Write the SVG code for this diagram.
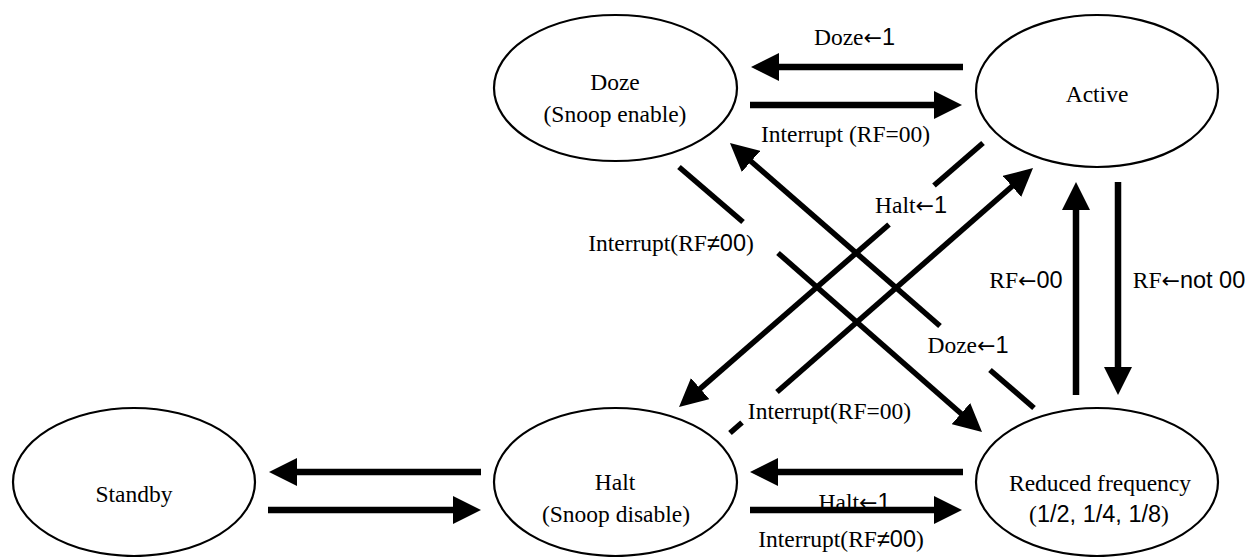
<svg xmlns="http://www.w3.org/2000/svg" width="1252" height="557" viewBox="0 0 1252 557">
<style>
  .node { fill: #ffffff; stroke: #000000; stroke-width: 2.2; }
  text { font-family: "Liberation Serif", "Times New Roman", serif; font-size: 23.5px; fill: #000000; text-anchor: middle; }
  .s { font-family: "Liberation Sans", Arial, sans-serif; }
  .a { font-family: "DejaVu Sans", sans-serif; font-size: 22px; }
  .ln { stroke: #000000; stroke-width: 6.5; fill: none; }
  .dg { stroke: #000000; stroke-width: 5.5; fill: none; }
  .arr { marker-end: url(#ah); }
</style>
<defs>
  <marker id="ah" markerUnits="userSpaceOnUse" markerWidth="28" markerHeight="28" refX="14" refY="14" orient="auto" viewBox="0 0 28 28">
    <path d="M0,0 L28,14 L0,28 z" fill="#000000"/>
  </marker>
</defs>
<rect width="1252" height="557" fill="#ffffff"/>

<g id="node-doze">
  <ellipse class="node" cx="615.5" cy="88" rx="121.5" ry="73"/>
  <text x="615" y="90">Doze</text>
  <text x="615" y="122">(Snoop enable)</text>
</g>
<g id="node-active">
  <ellipse class="node" cx="1097" cy="91" rx="121" ry="76"/>
  <text x="1097" y="102">Active</text>
</g>
<g id="node-standby">
  <ellipse class="node" cx="134" cy="482" rx="121" ry="74"/>
  <text x="134" y="502">Standby</text>
</g>
<g id="node-halt">
  <ellipse class="node" cx="615.5" cy="482" rx="121.5" ry="74"/>
  <text x="615" y="490">Halt</text>
  <text x="616" y="522">(Snoop disable)</text>
</g>
<g id="node-reduced">
  <ellipse class="node" cx="1097" cy="482" rx="121" ry="74"/>
  <text x="1100" y="491">Reduced frequency</text>
  <text x="1099" y="522">(<tspan class="s">1/2, 1/4, 1/8</tspan>)</text>
</g>

<g id="connectors">
  <!-- labels -->
  <text x="854.5" y="45">Doze<tspan class="a">←</tspan><tspan class="s">1</tspan></text>
  <text x="845.5" y="142">Interrupt (RF=00)</text>
  <text x="671" y="251">Interrupt(RF<tspan class="s">≠00</tspan>)</text>
  <text x="911" y="213">Halt<tspan class="a">←</tspan><tspan class="s">1</tspan></text>
  <text x="968" y="353">Doze<tspan class="a">←</tspan><tspan class="s">1</tspan></text>
  <text x="829.5" y="419">Interrupt(RF=00)</text>
  <text x="1026" y="288">RF<tspan class="a">←</tspan><tspan class="s">00</tspan></text>
  <text x="1189" y="288">RF<tspan class="a">←</tspan><tspan class="s">not 00</tspan></text>
  <text x="854.5" y="510">Halt<tspan class="a">←</tspan><tspan class="s">1</tspan></text>
  <text x="841" y="547">Interrupt(RF<tspan class="s">≠00</tspan>)</text>

  <!-- Active -> Doze / Doze -> Active -->
  <line class="ln arr" x1="963" y1="67" x2="765" y2="67"/>
  <line class="ln arr" x1="750" y1="105" x2="948" y2="105"/>

  <!-- Reduced <-> Active -->
  <line class="ln arr" x1="1076" y1="395" x2="1076" y2="196"/>
  <line class="ln arr" x1="1118" y1="182" x2="1118" y2="381"/>

  <!-- Halt <-> Standby -->
  <line class="ln arr" x1="481" y1="472" x2="283" y2="472"/>
  <line class="ln arr" x1="268" y1="510" x2="467" y2="510"/>

  <!-- Reduced <-> Halt -->
  <line class="ln arr" x1="963" y1="472" x2="764" y2="472"/>
  <line class="ln arr" x1="750" y1="510" x2="948" y2="510"/>

  <!-- Doze -> Reduced (Interrupt RF!=00) -->
  <line class="dg" x1="679" y1="167" x2="743" y2="222"/>
  <line class="dg arr" x1="778" y1="253" x2="971.5" y2="422.8"/>

  <!-- Reduced -> Doze (Doze<-1) -->
  <line class="dg" x1="1034" y1="408" x2="990" y2="370"/>
  <line class="dg arr" x1="940" y1="326" x2="740.5" y2="152.2"/>

  <!-- Active -> Halt (Halt<-1) -->
  <line class="dg" x1="983" y1="143" x2="934" y2="185.5"/>
  <line class="dg arr" x1="889" y1="224.5" x2="689.6" y2="397.8"/>

  <!-- Halt -> Active (Interrupt RF=00) -->
  <line class="dg" x1="730" y1="433" x2="742" y2="422.5"/>
  <line class="dg arr" x1="777" y1="392" x2="1022.5" y2="177.2"/>
</g>
</svg>
